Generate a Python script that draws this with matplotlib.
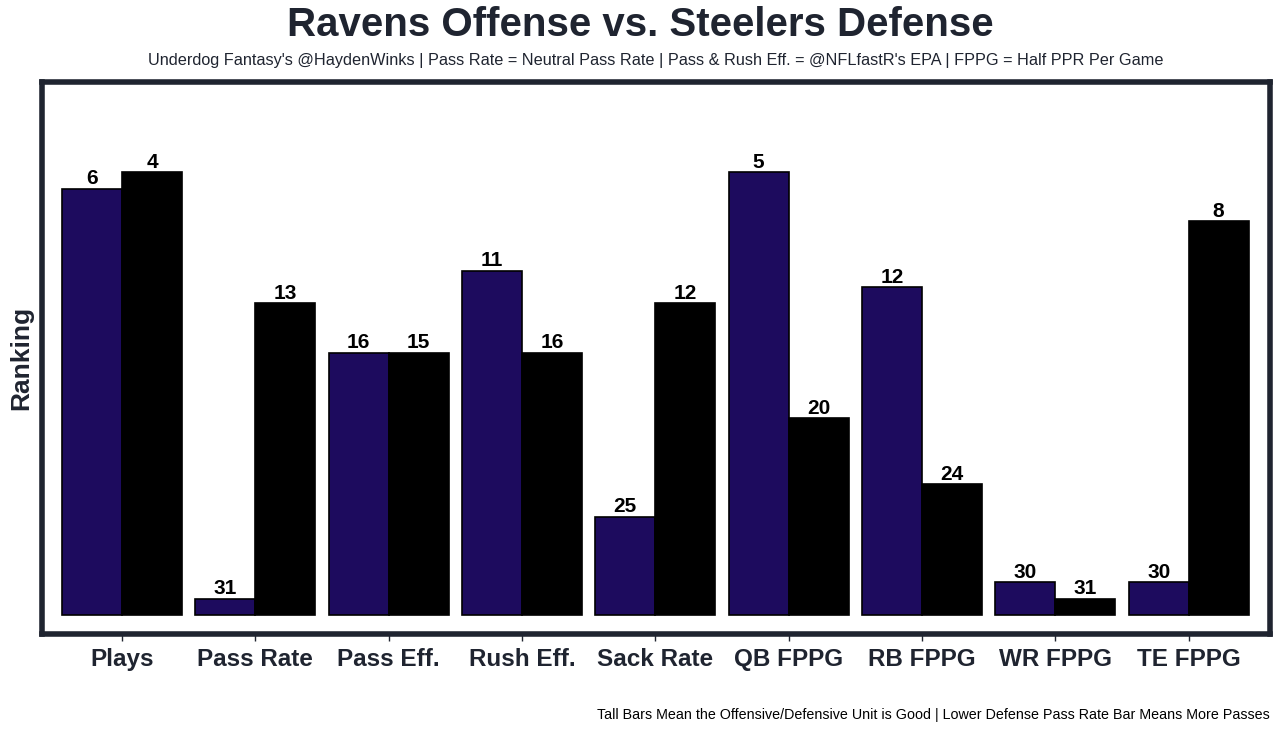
import matplotlib
matplotlib.use("Agg")
import matplotlib.pyplot as plt
import numpy as np

categories = ["Plays", "Pass Rate", "Pass Eff.", "Rush Eff.", "Sack Rate",
              "QB FPPG", "RB FPPG", "WR FPPG", "TE FPPG"]
offense_rank = [6, 31, 16, 11, 25, 5, 12, 30, 30]
defense_rank = [4, 13, 15, 16, 12, 20, 24, 31, 8]
# bar heights (tall = good)
offense_height = [26, 1, 16, 21, 6, 27, 20, 2, 2]
defense_height = [27, 19, 16, 16, 19, 12, 8, 1, 24]

plt.rcParams['font.family'] = ['Liberation Sans', 'DejaVu Sans']
dark = "#1f2430"
purple = "#1d0b5e"

fig = plt.figure(figsize=(12.8, 7.3), dpi=100)
ax = fig.add_axes([42/1280, 1 - 634/730, (1270-42)/1280, (634-82)/730])

x = np.arange(len(categories))
w = 0.45
ax.bar(x - w/2, offense_height, width=w, color=purple, edgecolor="black", linewidth=1.2)
ax.bar(x + w/2, defense_height, width=w, color="black", edgecolor="black", linewidth=1.2)

for xi, h, r in zip(x - w/2, offense_height, offense_rank):
    ax.text(xi, h + 0.02, str(r), ha="center", va="bottom", fontsize=15, fontweight="bold", color="black")
for xi, h, r in zip(x + w/2, defense_height, defense_rank):
    ax.text(xi, h + 0.02, str(r), ha="center", va="bottom", fontsize=15, fontweight="bold", color="black")

ax.set_xlim(-0.6, 8.61)
ax.set_ylim(-1.15, 32.5)
ax.set_yticks([])
ax.set_xticks(x)
ax.set_xticklabels(categories, fontsize=17.5, fontweight="bold", color=dark)
ax.tick_params(axis="x", length=5, width=1, color=dark, pad=5)
for s in ax.spines.values():
    s.set_linewidth(4)
    s.set_color(dark)
ax.set_ylabel("Ranking", fontsize=19, fontweight="bold", color=dark, labelpad=6)

fig.text(0.5, 1 - 25/730, "Ravens Offense vs. Steelers Defense", ha="center", va="center",
         fontsize=29, fontweight="bold", color=dark)
fig.text(656/1280, 1 - 60/730,
         "Underdog Fantasy's @HaydenWinks | Pass Rate = Neutral Pass Rate | Pass & Rush Eff. = @NFLfastR's EPA | FPPG = Half PPR Per Game",
         ha="center", va="center", fontsize=11.7, color=dark)
fig.text(1270/1280, 1 - 715/730,
         "Tall Bars Mean the Offensive/Defensive Unit is Good | Lower Defense Pass Rate Bar Means More Passes",
         ha="right", va="center", fontsize=10.3, color="black")

fig.savefig("out.png", dpi=100)
